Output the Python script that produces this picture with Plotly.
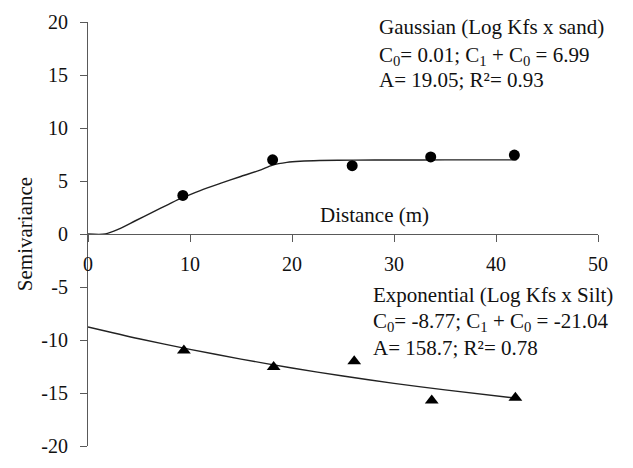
import plotly.graph_objects as go

lag_sand = [9.3, 18.1, 25.9, 33.6, 41.8]
gamma_sand = [3.64, 7.0, 6.45, 7.27, 7.45]

lag_silt = [9.4, 18.2, 26.1, 33.7, 41.9]
gamma_silt = [-11.0, -12.55, -12.0, -15.7, -15.45]

# Fitted model curves
curve_gauss_x = [0, 1.7, 3.0, 4.65, 6.3, 7.9, 9.2, 11.0, 12.9, 14.9, 16.8, 18.1, 19.5, 20.8, 22.7, 26, 30, 35, 42]
curve_gauss_y = [0, 0, 0.45, 1.25, 2.05, 2.8, 3.4, 4.1, 4.75, 5.4, 6.0, 6.5, 6.76, 6.87, 6.94, 6.97, 6.98, 6.99, 6.99]

curve_exp_x = [0, 5, 10, 15, 20, 25, 30, 35, 42]
curve_exp_y = [-8.77, -9.88, -10.88, -11.8, -12.64, -13.4, -14.09, -14.71, -15.49]

x_ticks = [0, 10, 20, 30, 40, 50]
y_ticks = [-20, -15, -10, -5, 0, 5, 10, 15, 20]
y_tick_text = ["-20", "-15", "-10", "-5", "0", "5", "10", "15", "20"]

lines_g = ["Gaussian (Log Kfs x sand)",
           "C<sub>0</sub>= 0.01; C<sub>1</sub> + C<sub>0</sub> = 6.99",
           "A= 19.05; R²= 0.93"]
lines_e = ["Exponential (Log Kfs x Silt)",
           "C<sub>0</sub>= -8.77; C<sub>1</sub> + C<sub>0</sub> = -21.04",
           "A= 158.7; R²= 0.78"]

FONT = "Liberation Serif"
AX = "#595959"
TXT = "#111111"

fig = go.Figure()
fig.add_trace(go.Scatter(x=curve_gauss_x, y=curve_gauss_y, mode="lines",
                         line=dict(color="#222222", width=1.4, shape="spline", smoothing=0.8), showlegend=False))
fig.add_trace(go.Scatter(x=curve_exp_x, y=curve_exp_y, mode="lines",
                         line=dict(color="#222222", width=1.4, shape="spline", smoothing=0.8), showlegend=False))
fig.add_trace(go.Scatter(x=lag_sand, y=gamma_sand, mode="markers",
                         marker=dict(symbol="circle", size=11, color="black"), showlegend=False))
fig.add_trace(go.Scatter(x=lag_silt, y=gamma_silt, mode="markers",
                         marker=dict(symbol="triangle-up", size=12, color="black"), showlegend=False))

ann_font = dict(family=FONT, size=21, color=TXT)
g_y = [19.5, 16.82, 14.52]
e_y = [-5.76, -8.33, -10.72]
for t, yy in zip(lines_g, g_y):
    fig.add_annotation(x=28.3, y=yy, xref="x", yref="y", text=t, showarrow=False,
                       xanchor="left", yanchor="middle", font=ann_font)
for t, yy in zip(lines_e, e_y):
    fig.add_annotation(x=27.7, y=yy, xref="x", yref="y", text=t, showarrow=False,
                       xanchor="left", yanchor="middle", font=ann_font)
fig.add_annotation(x=22.5, y=1.83, xref="x", yref="y", text="Distance (m)", showarrow=False,
                   xanchor="left", yanchor="middle", font=ann_font)

fig.update_layout(
    width=633, height=468,
    margin=dict(l=88, r=35, t=18, b=11),
    paper_bgcolor="white", plot_bgcolor="white",
    font=dict(family=FONT, size=20, color=TXT),
    xaxis=dict(range=[0, 50], tickvals=x_ticks, anchor="free", position=0.5,
               showline=True, linecolor=AX, linewidth=1.2, ticks="outside", ticklen=7,
               tickcolor=AX, tickwidth=1.2, showgrid=False, zeroline=False,
               ticklabelstandoff=5,
               tickfont=dict(family=FONT, size=20, color=TXT)),
    yaxis=dict(range=[-20, 20], tickvals=y_ticks, ticktext=y_tick_text, showline=True,
               linecolor=AX, linewidth=1.2,
               ticks="outside", ticklen=7, tickcolor=AX, tickwidth=1.2, showgrid=False,
               zeroline=False, tickfont=dict(family=FONT, size=20, color=TXT),
               ticklabelstandoff=8,
               title=dict(text="Semivariance", font=dict(family=FONT, size=21, color=TXT), standoff=2)),
)

fig.write_html("out.html")
